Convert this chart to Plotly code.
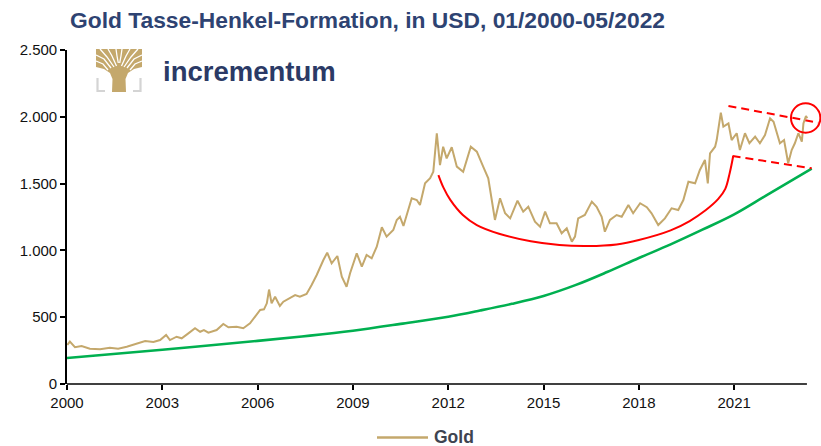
import plotly.graph_objects as go

# ---------------- data ----------------
gold_x = [2000.01, 2000.09, 2000.25, 2000.46, 2000.72, 2001.04, 2001.35, 2001.61, 2001.88, 2002.19,
          2002.46, 2002.72, 2002.93, 2003.12, 2003.24, 2003.45, 2003.61, 2003.82, 2004.03, 2004.19,
          2004.31, 2004.45, 2004.71, 2004.92, 2005.08, 2005.34, 2005.55, 2005.76, 2005.92, 2006.08,
          2006.20, 2006.29, 2006.36, 2006.44, 2006.55, 2006.70, 2006.81, 2007.02, 2007.18, 2007.33,
          2007.54, 2007.70, 2007.86, 2008.07, 2008.19, 2008.33, 2008.51, 2008.65, 2008.80, 2008.91,
          2009.12, 2009.28, 2009.43, 2009.59, 2009.75, 2009.91, 2010.06, 2010.27, 2010.38, 2010.48,
          2010.59, 2010.74, 2010.85, 2011.01, 2011.11, 2011.27, 2011.43, 2011.53, 2011.64, 2011.74,
          2011.84, 2011.95, 2012.11, 2012.27, 2012.47, 2012.71, 2012.90, 2013.10, 2013.26, 2013.37,
          2013.47, 2013.63, 2013.79, 2013.95, 2014.18, 2014.36, 2014.52, 2014.73, 2014.89, 2015.05,
          2015.20, 2015.41, 2015.57, 2015.73, 2015.89, 2015.99, 2016.09, 2016.30, 2016.52, 2016.67,
          2016.83, 2016.93, 2017.09, 2017.30, 2017.46, 2017.67, 2017.82, 2018.04, 2018.25, 2018.40,
          2018.61, 2018.82, 2019.03, 2019.24, 2019.40, 2019.56, 2019.77, 2019.92, 2020.08, 2020.17,
          2020.24, 2020.40, 2020.45, 2020.58, 2020.66, 2020.82, 2020.92, 2021.08, 2021.18, 2021.34,
          2021.48, 2021.66, 2021.81, 2021.97, 2022.13, 2022.24, 2022.34, 2022.44, 2022.57, 2022.70,
          2022.81, 2022.91, 2023.02, 2023.13, 2023.18, 2023.26, 2023.30]
gold_y = [292, 317, 275, 284, 264, 260, 272, 264, 279, 299,
          322, 314, 329, 367, 329, 354, 342, 379, 417, 391,
          404, 384, 404, 449, 424, 429, 417, 454, 504, 554,
          559, 604, 707, 604, 653, 584, 616, 641, 666, 653,
          674, 741, 816, 928, 983, 903, 958, 803, 728, 829,
          978, 878, 966, 941, 1028, 1173, 1103, 1153, 1228, 1252,
          1183, 1302, 1390, 1377, 1340, 1502, 1540, 1589, 1877, 1639,
          1776, 1689, 1772, 1627, 1589, 1776, 1739, 1627, 1540, 1377,
          1228, 1390, 1278, 1240, 1372, 1290, 1327, 1215, 1177, 1290,
          1203, 1203, 1128, 1165, 1065, 1103, 1240, 1265, 1365, 1327,
          1252, 1140, 1228, 1265, 1252, 1340, 1278, 1353, 1323, 1278,
          1190, 1240, 1315, 1302, 1377, 1514, 1502, 1602, 1677, 1502,
          1727, 1776, 1826, 2031, 1926, 1951, 1826, 1877, 1751, 1877,
          1802, 1851, 1802, 1864, 1989, 1963, 1877, 1802, 1826, 1652,
          1751, 1802, 1877, 1814, 1951, 2006, 1989]

trend_x = [2000.0, 2003.0, 2006.0, 2007.65, 2009.0, 2010.5, 2012.0, 2013.0, 2014.0, 2015.0,
           2016.0, 2017.0, 2018.0, 2019.0, 2020.0, 2021.0, 2022.0, 2023.44]
trend_y = [195, 256, 323, 362, 399, 450, 504, 550, 600, 659,
           740, 838, 943, 1045, 1155, 1270, 1410, 1612]

cup_x = [2011.69, 2011.85, 2012.06, 2012.46, 2012.90, 2013.60, 2014.60, 2015.50, 2016.40, 2017.30,
         2018.00, 2019.00, 2019.60, 2020.10, 2020.50, 2020.72, 2020.86, 2020.97]
cup_y = [1564, 1470, 1380, 1265, 1190, 1125, 1068, 1040, 1033, 1045,
         1078, 1150, 1220, 1300, 1385, 1460, 1580, 1707]

upper_x = [2020.82, 2023.65]
upper_y = [2081, 1956]
lower_x = [2020.95, 2023.44]
lower_y = [1707, 1615]

circle_x = 2023.25
circle_y = 1991

x_ticks = [2000, 2003, 2006, 2009, 2012, 2015, 2018, 2021]
x_labels = ["2000", "2003", "2006", "2009", "2012", "2015", "2018", "2021"]
y_ticks = [0, 500, 1000, 1500, 2000, 2500]
y_labels = ["0", "500", "1.000", "1.500", "2.000", "2.500"]

title_text = "Gold Tasse-Henkel-Formation, in USD, 01/2000-05/2022"
legend_text = "Gold"
logo_text = "incrementum"

# ---------------- styling ----------------
W, H = 821, 446
ML, MR, MT, MB = 67, 0, 50, 62
PW, PH = W - ML - MR, H - MT - MB
GOLD = "#C4A86C"
GREEN = "#00B050"
RED = "#FF0000"
NAVY = "#2E4372"
FONT = "Arial, Liberation Sans, sans-serif"


def pxx(px):
    return (px - ML) / PW


def pxy(py):
    return (H - MB - py) / PH


fig = go.Figure()
fig.add_trace(go.Scatter(x=trend_x, y=trend_y, mode="lines",
                         line=dict(color=GREEN, width=2.6, shape="spline"),
                         hoverinfo="skip", showlegend=False))
fig.add_trace(go.Scatter(x=cup_x, y=cup_y, mode="lines",
                         line=dict(color=RED, width=2, shape="spline"),
                         hoverinfo="skip", showlegend=False))
for xs, ys in ((upper_x, upper_y), (lower_x, lower_y)):
    fig.add_trace(go.Scatter(x=xs, y=ys, mode="lines",
                             line=dict(color=RED, width=2, dash="8px,5px"),
                             hoverinfo="skip", showlegend=False))
fig.add_trace(go.Scatter(x=gold_x, y=gold_y, mode="lines", name=legend_text,
                         line=dict(color=GOLD, width=2), showlegend=False))

shapes = []
# red circle (pixel sized)
shapes.append(dict(type="circle", xref="x", yref="y", xsizemode="pixel", ysizemode="pixel",
                   xanchor=circle_x, yanchor=circle_y, x0=-14.7, x1=14.7, y0=-14.7, y1=14.7,
                   line=dict(color=RED, width=2)))
# x axis line (ends at the last data point)
x_end_frac = (2023.29 - 2000) / (2023.733 - 2000)
shapes.append(dict(type="line", xref="paper", yref="paper", x0=0, x1=x_end_frac, y0=0, y1=0,
                   line=dict(color="black", width=1.6)))
# manual legend sample
shapes.append(dict(type="line", xref="paper", yref="paper", x0=pxx(377), x1=pxx(428),
                   y0=pxy(437.5), y1=pxy(437.5), line=dict(color=GOLD, width=2.5)))


def path_px(points, close=True):
    s = ""
    for i, (a, b) in enumerate(points):
        s += ("M" if i == 0 else "L") + f"{pxx(a):.5f},{pxy(b):.5f} "
    return s + ("Z" if close else "")


# logo: tree fan + trunk
fan = [(96, 49), (142, 49), (142, 67), (134, 69), (128, 73), (125.5, 79), (126, 92),
       (112, 92), (112.5, 79), (110, 73), (104, 69), (96, 67)]
shapes.append(dict(type="path", xref="paper", yref="paper", path=path_px(fan),
                   fillcolor=GOLD, line=dict(width=0), layer="above"))
gaps = [[(96, 55), (104, 59), (111, 68)], [(100, 49), (107, 57), (114, 67)],
        [(108, 49), (112, 56), (116.5, 66)], [(116, 49), (117, 56), (118.3, 63)],
        [(142, 55), (134, 59), (127, 68)], [(138, 49), (131, 57), (124, 67)],
        [(130, 49), (126, 56), (121.5, 66)], [(122, 49), (121, 56), (119.7, 63)],
        [(96, 61), (103, 64), (108, 70)], [(142, 61), (135, 64), (130, 70)]]
for g in gaps:
    shapes.append(dict(type="path", xref="paper", yref="paper", path=path_px(g, close=False),
                       line=dict(color="white", width=1.3), layer="above"))
for pts in ([(97.5, 78), (97.5, 91), (105, 91)], [(140.5, 78), (140.5, 91), (133, 91)]):
    shapes.append(dict(type="path", xref="paper", yref="paper", path=path_px(pts, close=False),
                       line=dict(color="#D4D4D4", width=2.2), layer="above"))

annotations = [
    dict(text=f"<b>{title_text}</b>", xref="paper", yref="paper", x=pxx(68), y=pxy(20),
         xanchor="left", yanchor="middle", showarrow=False,
         font=dict(family=FONT, size=22.8, color=NAVY)),
    dict(text=f"<b>{logo_text}</b>", xref="paper", yref="paper", x=pxx(161), y=pxy(72),
         xanchor="left", yanchor="middle", showarrow=False,
         font=dict(family=FONT, size=27.5, color="#2B3A66")),
    dict(text=f"<b>{legend_text}</b>", xref="paper", yref="paper", x=pxx(432), y=pxy(436.5),
         xanchor="left", yanchor="middle", showarrow=False,
         font=dict(family=FONT, size=17.5, color="#3E4450")),
]

fig.update_layout(
    width=W, height=H, autosize=False,
    margin=dict(l=ML, r=MR, t=MT, b=MB, pad=0),
    paper_bgcolor="white", plot_bgcolor="white",
    showlegend=False,
    shapes=shapes, annotations=annotations,
    font=dict(family=FONT, size=15, color="#111111"),
    xaxis=dict(range=[2000, 2023.733], tickvals=x_ticks, ticktext=x_labels,
               showgrid=False, zeroline=False, showline=False,
               ticks="outside", ticklen=5, tickwidth=1.5, tickcolor="black",
               tickfont=dict(family=FONT, size=15, color="#111111")),
    yaxis=dict(range=[0, 2500], tickvals=y_ticks, ticktext=y_labels,
               showgrid=False, zeroline=False, showline=True, linecolor="black", linewidth=1.6,
               ticks="outside", ticklen=5, tickwidth=1.5, tickcolor="black",
               tickfont=dict(family=FONT, size=15, color="#111111")),
)

fig.write_html("out.html", config={"displayModeBar": False},
               post_script="document.body.style.margin='0';document.body.style.overflow='hidden';")
